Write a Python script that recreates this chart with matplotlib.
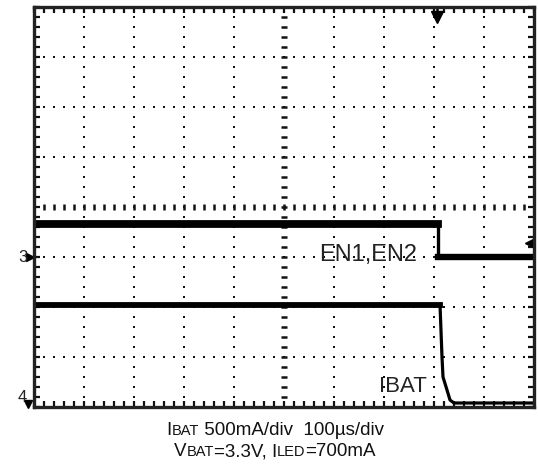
import numpy as np
import matplotlib
matplotlib.use("Agg")
import matplotlib.pyplot as plt
from matplotlib.offsetbox import TextArea, HPacker, VPacker, AnchoredOffsetbox

plt.rcParams['font.family'] = ['Liberation Sans', 'DejaVu Sans']

# scope traces, time in us (100us/div), level in screen divisions (0 = bottom)
en_t_high = [0, 807]
en_high = [3.66, 3.66]
en_t_low = [807, 1000]
en_low = [3.0, 3.0]

ibat_t_high = [0, 812]
ibat_high = [2.05, 2.05]
ibat_t_fall = [812, 816, 818, 826, 832, 840, 1000]
ibat_fall = [2.05, 1.0, 0.6, 0.34, 0.14, 0.08, 0.08]

fig = plt.figure(figsize=(5.38, 4.66), dpi=100)
ax = fig.add_axes([34 / 538, 59 / 466, 500 / 538, 400 / 466])
ax.set_xlim(0, 1000)
ax.set_ylim(0, 8)

# graticule: dotted grid lines
xs_minor = np.arange(20, 1000, 20)
ys_minor = np.arange(0.2, 8, 0.2)
for gx in range(100, 1000, 100):
    if gx == 500:
        continue
    ax.plot([gx] * len(ys_minor), ys_minor, ls='none', marker='s', ms=1.7, color='#111', mew=0)
for gy in range(1, 8):
    if gy == 4:
        continue
    ax.plot(xs_minor, [gy] * len(xs_minor), ls='none', marker='s', ms=1.7, color='#111', mew=0)
# center cross with tick dashes
ax.plot([500] * len(ys_minor), ys_minor, ls='none', marker='_', ms=5, mew=1.8, color='#111')
ax.plot(xs_minor, [4] * len(xs_minor), ls='none', marker='|', ms=5, mew=1.8, color='#111')

# frame ticks
ax.set_xticks(np.arange(0, 1001, 100))
ax.set_xticks(np.arange(0, 1001, 20), minor=True)
ax.set_yticks(np.arange(0, 8.01, 1))
ax.set_yticks(np.arange(0, 8.01, 0.2), minor=True)
ax.tick_params(which='both', direction='in', length=4, width=1.6, color='#111',
               top=True, right=True, labelbottom=False, labelleft=False)
for sp in ax.spines.values():
    sp.set_linewidth(2.4)
    sp.set_color('#222')

# traces
ax.plot(en_t_high, en_high, color='black', lw=5.6)
ax.plot([en_t_high[-1], en_t_low[0]], [en_high[-1], en_low[0]], color='black', lw=2.4)
ax.plot(en_t_low, en_low, color='black', lw=4.6)
ax.plot(ibat_t_high, ibat_high, color='black', lw=4.2)
ax.plot(ibat_t_fall, ibat_fall, color='black', lw=2.3)

ax.text(668, 3.04, "EN1,EN2", fontsize=17, color='#222', ha='center', va='center')
ax.text(738, 0.4, "IBAT", fontsize=16, color='#222', ha='center', va='center')

# scope markers
ax.plot([806, 806], [8, 7.85], color='black', lw=1.8, clip_on=False)
ax.plot([806], [7.8], marker='v', ms=8, color='black', clip_on=False)
ax.plot([990], [3.28], marker='<', ms=6, color='black', clip_on=False)
ax.plot([1000, 1000], [3.18, 3.38], color='black', lw=1.5, clip_on=False)
ax.plot([-8], [3.0], marker='>', ms=6, color='black', clip_on=False)
ax.text(-22, 3.0, "3", fontsize=12, ha='center', va='center', color='#222')
ax.plot([-12], [0.06], marker='v', ms=6, color='black', clip_on=False)
ax.text(-24, 0.18, "4", fontsize=12, ha='center', va='center', color='#222')


def cap_line(parts):
    return HPacker(children=[TextArea(t, textprops=dict(fontsize=s, color='#111'))
                             for t, s in parts], align='baseline', pad=0, sep=0)


line1 = cap_line([("I", 13.5), ("BAT", 10.5), (" 500mA/div  100\u00b5s/div", 13.5)])
line2 = cap_line([("V", 13.5), ("BAT", 10.5), ("=3.3V, I", 13.5), ("LED", 10.5), ("=700mA", 13.5)])
cap = VPacker(children=[line1, line2], align='center', pad=0, sep=3)
box = AnchoredOffsetbox(loc='center', child=cap, frameon=False, pad=0,
                        bbox_to_anchor=(275 / 538, 1 - 441 / 466),
                        bbox_transform=fig.transFigure)
fig.add_artist(box)

fig.savefig("out.png", dpi=100)
